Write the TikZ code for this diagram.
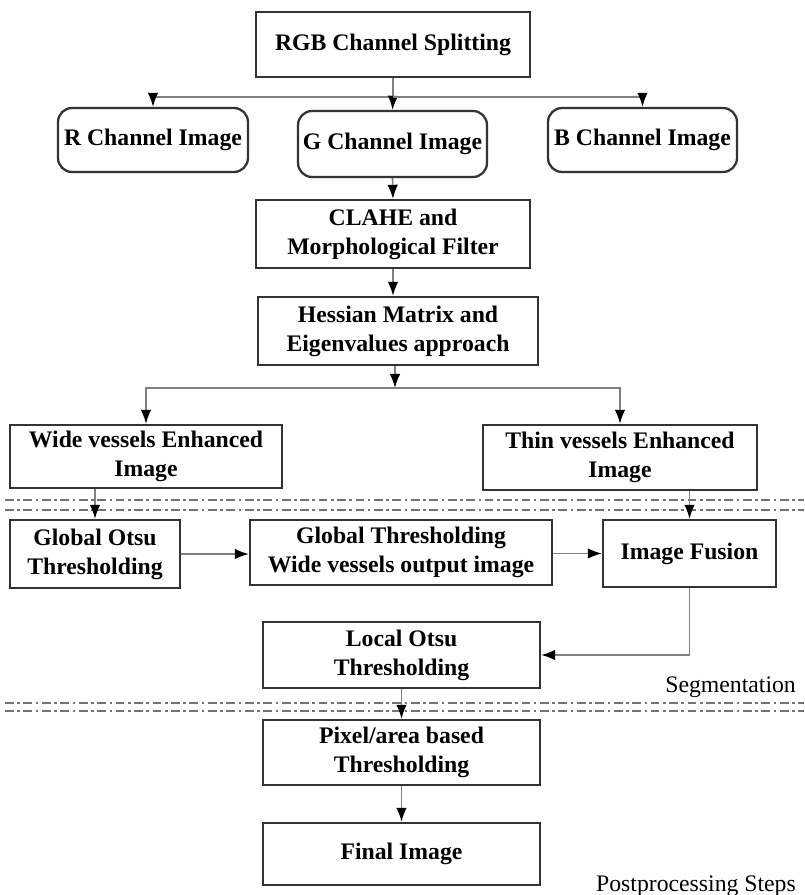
\documentclass[tikz,border=0pt]{standalone}
\usepackage{fontspec}
\setmainfont{Liberation Serif}
\usepackage{tikz}
\usetikzlibrary{arrows.meta,calc,positioning}
\tikzset{
  box/.style={draw=black!80,line width=1.3pt,align=center,inner sep=2pt,
    font=\fontsize{13.5}{16.5}\selectfont\bfseries},
  rbox/.style={box,rounded corners=8pt},
  conn/.style={draw=black!50,line width=0.9pt},
  arr/.style={conn,-{Latex[length=8pt,width=6pt,color=black]}},
  sep/.style={draw=black!55,line width=1pt,dash pattern=on 5pt off 2pt on 1.5pt off 2pt},
  note/.style={font=\fontsize{13.5}{16}\selectfont}
}

\begin{document}
\begin{tikzpicture}[x=0.02cm,y=-0.02cm]
\useasboundingbox (0,0) rectangle (804,895);

% top part
\node[box,minimum width=5.48cm,minimum height=1.3cm] (RGB) at (393,44.5) {RGB Channel Splitting};
\node[rbox,minimum width=3.8cm,minimum height=1.28cm] (R) at (153,140) {R Channel Image};
\node[rbox,minimum width=3.78cm,minimum height=1.32cm] (G) at (392.5,144) {G Channel Image};
\node[rbox,minimum width=3.78cm,minimum height=1.28cm] (B) at (642.5,140) {B Channel Image};
\coordinate (S1) at (393,97);
\draw[conn] (RGB.south) -- (S1);
\draw[arr] (S1) -| (R.north);
\draw[arr] (S1) -- (G.north);
\draw[arr] (S1) -| (B.north);

\node[box,minimum width=5.48cm,minimum height=1.36cm] (CL) at (393,234) {CLAHE and\\Morphological Filter};
\draw[arr] (G.south) -- (CL.north);
\node[box,minimum width=5.6cm,minimum height=1.36cm] (HM) at (398,331) {Hessian Matrix and\\Eigenvalues approach};
\draw[arr] (CL.south) -- (CL.south |- HM.north);

\node[box,minimum width=5.44cm,minimum height=1.26cm] (WV) at (146,456.5) {Wide vessels Enhanced\\Image};
\node[box,minimum width=5.48cm,minimum height=1.3cm] (TV) at (620,457.5) {Thin vessels Enhanced\\Image};
\coordinate (S2) at (395,388);
\draw[arr] (HM.south -| S2) -- (S2);
\draw[arr] (S2) -| (WV.north);
\draw[arr] (S2) -| (TV.north);

% segmentation
\draw[sep] (5,500) -- (804,500);
\draw[sep] (5,510) -- (804,510);
\node[box,minimum width=3.4cm,minimum height=1.36cm] (GO) at (95,554) {Global Otsu\\Thresholding};
\node[box,minimum width=6.04cm,minimum height=1.3cm] (GT) at (401,552.5) {Global Thresholding\\Wide vessels output image};
\node[box,minimum width=3.46cm,minimum height=1.34cm] (IF) at (689.5,553.5) {Image Fusion};
\node[box,minimum width=5.54cm,minimum height=1.32cm] (LO) at (401.5,655) {Local Otsu\\Thresholding};
\draw[arr] (GO.north |- WV.south) -- (GO.north);
\draw[arr] (IF.north |- TV.south) -- (IF.north);
\draw[arr] (GO.east) -- (GO.east -| GT.west);
\draw[arr] (GT.east |- IF.west) -- (IF.west);
\draw[arr] (IF.south) |- (LO.east);
\node[note,anchor=east] (SG) at (802,687) {Segmentation};

% postprocessing
\draw[sep] (5,703) -- (804,703);
\draw[sep] (5,711) -- (804,711);
\node[box,minimum width=5.54cm,minimum height=1.3cm] (PA) at (401.5,752.5) {Pixel/area based\\Thresholding};
\node[box,minimum width=5.54cm,minimum height=1.24cm] (FI) at (401.5,854) {Final Image};
\draw[arr] (LO.south) -- (PA.north);
\draw[arr] (PA.south) -- (FI.north);
\node[note,anchor=base east] (PP) at (802,891) {Postprocessing Steps};
\end{tikzpicture}
\end{document}
